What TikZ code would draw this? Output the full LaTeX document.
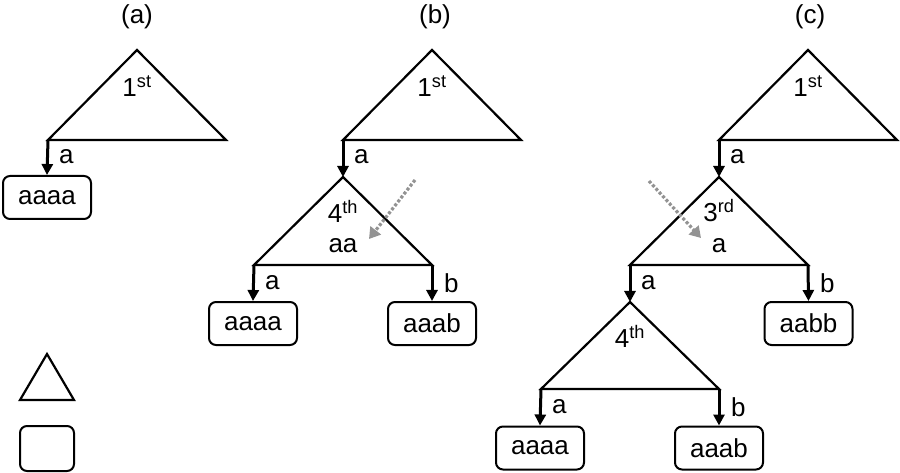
\documentclass[tikz,border=0pt]{standalone}
\usepackage{fontspec}
\setmainfont{Liberation Sans}
\usetikzlibrary{arrows.meta}
\begin{document}
\begin{tikzpicture}[x=1pt,y=-1pt,
  tri/.style={line width=2.2pt,line join=miter},
  edge/.style={line width=3pt,-{Triangle[width=11pt,length=11pt]}},
  leaf/.style={draw,line width=2pt,rounded corners=7pt,minimum width=88pt,minimum height=43pt,inner sep=0pt,
    font=\fontsize{26pt}{30pt}\selectfont},
  txt/.style={inner sep=0pt,font=\fontsize{26pt}{30pt}\selectfont},
  elab/.style={inner sep=0pt,anchor=west,font=\fontsize{26pt}{30pt}\selectfont},
  hint/.style={draw=gray!85,line width=3.2pt,dash pattern=on 3pt off 2pt,-{Triangle[width=13pt,length=11pt,fill=gray!85]}}
]
\useasboundingbox (0,0) rectangle (900,473);

% titles
\node[txt] (ta) at (137,17) {(a)};
\node[txt] (tb) at (435,17) {(b)};
\node[txt] (tc) at (810,17) {(c)};

% ---------- (a) ----------
\coordinate (Aa) at (137,50); \coordinate (Al) at (48,140); \coordinate (Ar) at (226,140);
\draw[tri] (Aa) -- (Al) -- (Ar) -- cycle;
\node[txt] (Ak) at (137,86) {1\textsuperscript{st}};
\node[leaf] (A1) at (47,197.5) {aaaa};
\draw[edge] (Al) -- (A1.north);
\node[elab] at (59,157) {a};

% ---------- (b) ----------
\coordinate (Ba) at (432,50); \coordinate (Bl) at (343,140); \coordinate (Br) at (521,140);
\draw[tri] (Ba) -- (Bl) -- (Br) -- cycle;
\node[txt] (Bk) at (432,86) {1\textsuperscript{st}};
\coordinate (B2a) at (343,177); \coordinate (B2l) at (254,265); \coordinate (B2r) at (432,265);
\draw[edge] (Bl) -- (B2a);
\node[elab] at (354,157) {a};
\draw[tri] (B2a) -- (B2l) -- (B2r) -- cycle;
\node[txt] (B2k) at (343,211) {4\textsuperscript{th}};
\node[txt] (B2s) at (343,246) {aa};
\node[leaf] (B1) at (253,323.5) {aaaa};
\node[leaf] (B2) at (432,323.5) {aaab};
\draw[edge] (B2l) -- (B1.north);
\draw[edge] (B2r) -- (B2.north);
\node[elab] at (265,283) {a};
\node[elab] at (444,283) {b};
\coordinate (Bh1) at (415,180); \coordinate (Bh2) at (369,239);
\draw[hint] (Bh1) -- (Bh2);

% ---------- (c) ----------
\coordinate (Ca) at (808,50); \coordinate (Cl) at (719,140); \coordinate (Cr) at (897,140);
\draw[tri] (Ca) -- (Cl) -- (Cr) -- cycle;
\node[txt] (Ck) at (808,86) {1\textsuperscript{st}};
\coordinate (C2a) at (719,177); \coordinate (C2l) at (630,265); \coordinate (C2r) at (808,265);
\draw[edge] (Cl) -- (C2a);
\node[elab] at (730,157) {a};
\draw[tri] (C2a) -- (C2l) -- (C2r) -- cycle;
\node[txt] (C2k) at (719,211) {3\textsuperscript{rd}};
\node[txt] (C2s) at (719,246) {a};
\node[leaf] (C2b) at (808.5,323.5) {aabb};
\draw[edge] (C2r) -- (C2b.north);
\node[elab] at (820,283) {b};
\coordinate (C3a) at (630,302); \coordinate (C3l) at (541,389); \coordinate (C3r) at (719,389);
\draw[edge] (C2l) -- (C3a);
\node[elab] at (641,283) {a};
\draw[tri] (C3a) -- (C3l) -- (C3r) -- cycle;
\node[txt] (C3k) at (630,336) {4\textsuperscript{th}};
\node[leaf] (C1) at (540,448) {aaaa};
\node[leaf] (C2) at (719,448) {aaab};
\draw[edge] (C3l) -- (C1.north);
\draw[edge] (C3r) -- (C2.north);
\node[elab] at (552,407) {a};
\node[elab] at (731,407) {b};
\coordinate (Ch1) at (649,181); \coordinate (Ch2) at (701,238);
\draw[hint] (Ch1) -- (Ch2);

% ---------- legend ----------
\coordinate (La) at (47,354); \coordinate (Ll) at (20,400); \coordinate (Lr) at (74,400);
\draw[tri] (La) -- (Ll) -- (Lr) -- cycle;
\node[draw,line width=2pt,rounded corners=7pt,minimum width=54pt,minimum height=45pt,inner sep=0pt] (Lb) at (47,448.5) {};
\end{tikzpicture}
\end{document}
